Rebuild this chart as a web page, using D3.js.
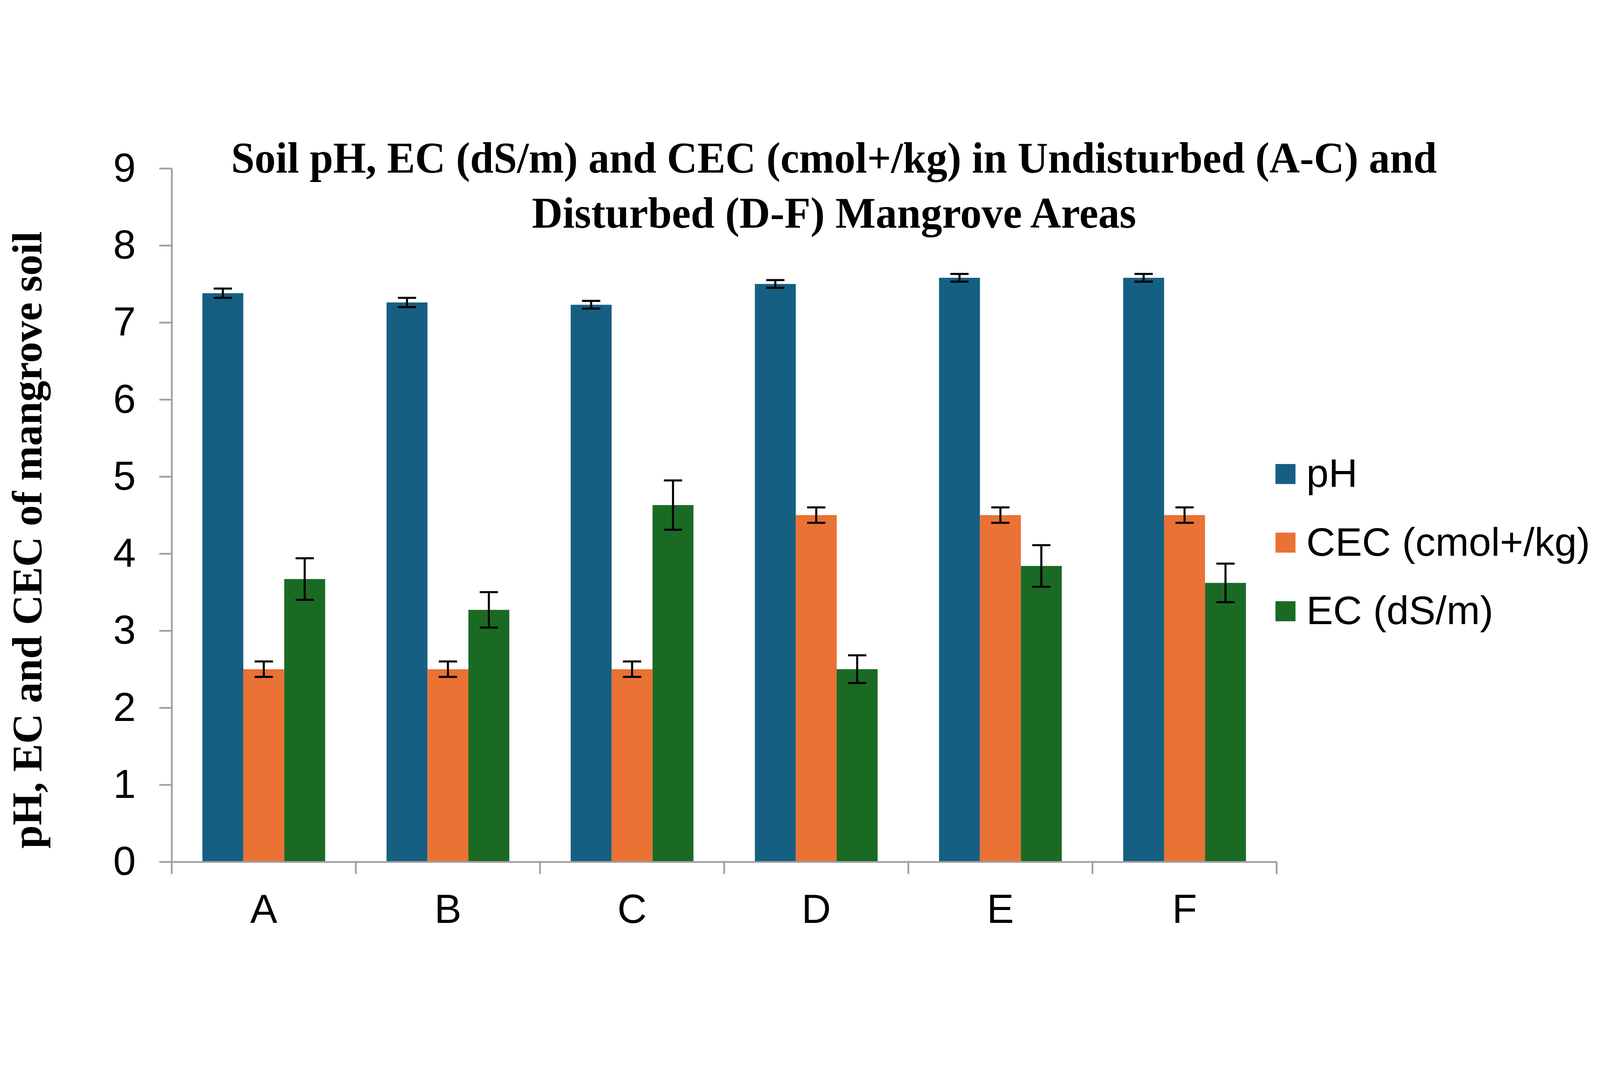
<!DOCTYPE html>
<html>
<head>
<meta charset="utf-8">
<script src="https://cdn.jsdelivr.net/npm/d3@7"></script>
<style>
  html, body { margin: 0; padding: 0; background: #fff; overflow: hidden; }
  #chart svg { display: block; width: 100vw; height: 100vh; }
</style>
</head>
<body>
<div id="chart"></div>
<script>
// data
const categories = ['A', 'B', 'C', 'D', 'E', 'F'];
const seriesNames = ['pH', 'CEC (cmol+/kg)', 'EC (dS/m)'];
const phMean = [7.38, 7.26, 7.23, 7.50, 7.58, 7.58];
const phErr = [0.06, 0.06, 0.05, 0.05, 0.05, 0.05];
const cecMean = [2.50, 2.50, 2.50, 4.50, 4.50, 4.50];
const cecErr = [0.10, 0.10, 0.10, 0.10, 0.10, 0.10];
const ecMean = [3.67, 3.27, 4.63, 2.50, 3.84, 3.62];
const ecErr = [0.27, 0.23, 0.32, 0.18, 0.27, 0.25];
const yTicks = [0, 1, 2, 3, 4, 5, 6, 7, 8, 9];
const colours = ['#165f83', '#e97234', '#1b6a24'];

const width = 5433;
const height = 2732;

const dim = {
  left: 583,
  right: 4335,
  top: 126,
  bottom: 2481,
  tickLen: 42,
  axisColour: '#a0a0a0',
  axisWidth: 6,
};

const svg = d3.select('#chart').append('svg')
  .attr('viewBox', `0 0 ${width} ${height}`)
  .attr('preserveAspectRatio', 'xMidYMid meet');

svg.append('rect').attr('width', width).attr('height', height).attr('fill', '#fff');

const seriesData = seriesNames.map((name, i) => ({
  name,
  colour: colours[i],
  values: [phMean, cecMean, ecMean][i],
  errors: [phErr, cecErr, ecErr][i],
}));

// scales
const x0 = d3.scaleBand().domain(categories).range([dim.left, dim.right]).padding(0);
const x1 = d3.scaleBand().domain(seriesNames).range([0, x0.bandwidth()])
  .paddingInner(0).paddingOuter(0.75);
const y = d3.scaleLinear().domain([0, 9]).range([dim.bottom, dim.top]);

// bars
seriesData.forEach(series => {
  const g = svg.append('g').attr('class', 'series');
  g.selectAll('rect')
    .data(categories)
    .enter().append('rect')
    .attr('x', (c) => x0(c) + x1(series.name))
    .attr('y', (c, i) => y(series.values[i]))
    .attr('width', x1.bandwidth())
    .attr('height', (c, i) => y(0) - y(series.values[i]))
    .attr('fill', series.colour);
});

// error bars
const capHalf = 31;
seriesData.forEach(series => {
  const g = svg.append('g').attr('class', 'errors')
    .attr('stroke', '#000').attr('stroke-width', 7).attr('fill', 'none');
  categories.forEach((c, i) => {
    const cx = x0(c) + x1(series.name) + x1.bandwidth() / 2;
    const hi = y(series.values[i] + series.errors[i]);
    const lo = y(series.values[i] - series.errors[i]);
    g.append('line').attr('x1', cx).attr('x2', cx).attr('y1', hi).attr('y2', lo);
    g.append('line').attr('x1', cx - capHalf).attr('x2', cx + capHalf).attr('y1', hi).attr('y2', hi);
    g.append('line').attr('x1', cx - capHalf).attr('x2', cx + capHalf).attr('y1', lo).attr('y2', lo);
  });
});

// y axis
const yAxis = svg.append('g')
  .attr('transform', `translate(${dim.left}, 0)`)
  .call(d3.axisLeft(y).tickValues(yTicks).tickFormat(d3.format('d'))
    .tickSize(dim.tickLen).tickSizeOuter(0).tickPadding(80));
yAxis.select('.domain').attr('stroke', dim.axisColour).attr('stroke-width', dim.axisWidth);
yAxis.selectAll('.tick line').attr('stroke', dim.axisColour).attr('stroke-width', dim.axisWidth);
yAxis.selectAll('.tick text')
  .attr('font-family', '"Liberation Sans", Arial, sans-serif')
  .attr('font-size', 138)
  .attr('fill', '#000');

// x axis: labels centred, ticks on the category boundaries
const xAxis = svg.append('g')
  .attr('transform', `translate(0, ${dim.bottom})`)
  .call(d3.axisBottom(x0).tickSize(0).tickSizeOuter(0).tickPadding(110));
xAxis.select('.domain').attr('stroke', dim.axisColour).attr('stroke-width', dim.axisWidth);
xAxis.selectAll('.tick text')
  .attr('font-family', '"Liberation Sans", Arial, sans-serif')
  .attr('font-size', 138)
  .attr('fill', '#000');

const boundaries = categories.map(c => x0(c)).concat([x0(categories[categories.length - 1]) + x0.bandwidth()]);
xAxis.selectAll('line.boundary')
  .data(boundaries)
  .enter().append('line')
  .attr('class', 'boundary')
  .attr('x1', d => d).attr('x2', d => d)
  .attr('y1', 0).attr('y2', dim.tickLen)
  .attr('stroke', dim.axisColour).attr('stroke-width', dim.axisWidth);

// title
const titleLines = [
  'Soil pH, EC (dS/m) and CEC (cmol+/kg) in Undisturbed (A-C) and',
  'Disturbed (D-F) Mangrove Areas',
];
const titleLengths = [4094, 2052];
svg.append('g').selectAll('text')
  .data(titleLines)
  .enter().append('text')
  .attr('x', 2832)
  .attr('y', (d, i) => 141 + i * 187)
  .attr('text-anchor', 'middle')
  .attr('font-family', '"Liberation Serif", "Times New Roman", serif')
  .attr('font-weight', 'bold')
  .attr('font-size', 148)
  .attr('textLength', (d, i) => titleLengths[i])
  .attr('lengthAdjust', 'spacingAndGlyphs')
  .text(d => d);

// y axis title
svg.append('text')
  .attr('transform', 'translate(141, 1388) rotate(-90)')
  .attr('text-anchor', 'middle')
  .attr('font-family', '"Liberation Serif", "Times New Roman", serif')
  .attr('font-weight', 'bold')
  .attr('font-size', 144)
  .attr('textLength', 2096)
  .attr('lengthAdjust', 'spacingAndGlyphs')
  .text('pH, EC and CEC of mangrove soil');

// legend
const legend = svg.append('g').attr('transform', 'translate(4331, 1130)');
const item = legend.selectAll('g')
  .data(seriesData)
  .enter().append('g')
  .attr('transform', (d, i) => `translate(0, ${i * 233})`);
item.append('rect')
  .attr('width', 68).attr('height', 68)
  .attr('fill', d => d.colour);
item.append('text')
  .attr('x', 105)
  .attr('y', 78)
  .attr('font-family', '"Liberation Sans", Arial, sans-serif')
  .attr('font-size', 136)
  .attr('fill', '#000')
  .text(d => d.name);
</script>
</body>
</html>
